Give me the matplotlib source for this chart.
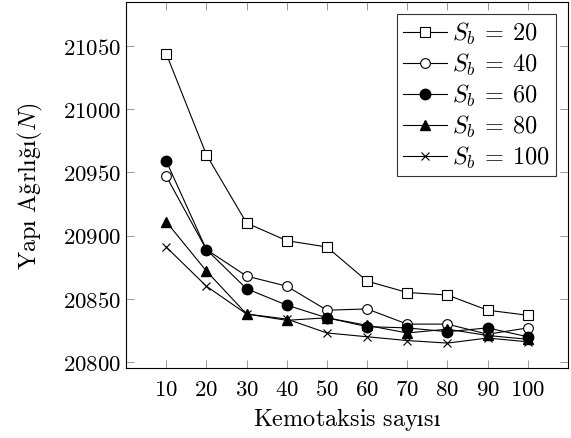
import matplotlib
matplotlib.use("Agg")
import matplotlib.pyplot as plt

plt.rcParams['font.family'] = ['cmr10', 'DejaVu Serif']
plt.rcParams['mathtext.fontset'] = 'cm'
plt.rcParams['axes.formatter.use_mathtext'] = True

kemotaksis = [10, 20, 30, 40, 50, 60, 70, 80, 90, 100]

sb20 = [21044, 20964, 20910, 20896, 20891, 20864, 20855, 20853, 20841, 20837]
sb40 = [20947, 20889, 20868, 20860, 20841, 20842, 20830, 20830, 20822, 20827]
sb60 = [20959, 20889, 20858, 20845, 20835, 20828, 20827, 20824, 20827, 20820]
sb80 = [20911, 20872, 20838, 20833, 20835, 20829, 20823, 20826, 20821, 20818]
sb100 = [20891, 20860, 20838, 20834, 20823, 20820, 20817, 20815, 20819, 20816]

fig = plt.figure(figsize=(5.71, 4.39), dpi=100)
ax = fig.add_axes([0.2207, 0.1595, 0.774, 0.8337])

lw = 0.8
ax.plot(kemotaksis, sb20, color='k', lw=lw, marker='s', ms=7, mfc='white', mec='k', mew=0.8, label=r'$S_b\:=\:20$')
ax.plot(kemotaksis, sb40, color='k', lw=lw, marker='o', ms=7, mfc='white', mec='k', mew=0.8, label=r'$S_b\:=\:40$')
ax.plot(kemotaksis, sb60, color='k', lw=lw, marker='o', ms=7.5, mfc='k', mec='k', label=r'$S_b\:=\:60$')
ax.plot(kemotaksis, sb80, color='k', lw=lw, marker='^', ms=7, mfc='k', mec='k', label=r'$S_b\:=\:80$')
ax.plot(kemotaksis, sb100, color='k', lw=lw, marker='x', ms=6, mec='k', mew=0.8, label=r'$S_b\:=\:100$')

ax.set_xlim(0, 110)
ax.set_ylim(20795.3, 21084.8)
ax.set_xticks(kemotaksis)
ax.set_yticks([20800, 20850, 20900, 20950, 21000, 21050])
ax.tick_params(direction='in', length=6, width=0.6, color='#888888',
               top=True, right=True, labelsize=16.5)
ax.tick_params(axis='x', pad=8)
for s in ax.spines.values():
    s.set_linewidth(0.8)

ax.set_xlabel(r'$\mathrm{Kemotaksis\ sayısı}$', fontsize=17.5, labelpad=4)
ax.set_ylabel(r'$\mathrm{Yapı\ Ağrlığı}(N)$', fontsize=17.5, labelpad=13)

leg = ax.legend(loc='upper right', fontsize=17.5, frameon=True, fancybox=False,
                edgecolor='k', handlelength=1.8, handletextpad=0.2,
                borderpad=0.25, labelspacing=0.2, borderaxespad=0.5)
leg.get_frame().set_linewidth(0.8)

fig.savefig('out.png', dpi=100)
